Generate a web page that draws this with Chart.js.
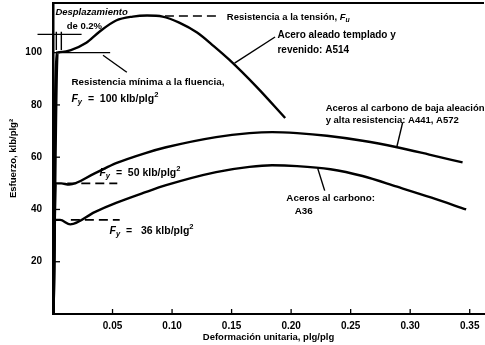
<!DOCTYPE html>
<html>
<head>
<meta charset="utf-8">
<script src="https://cdn.jsdelivr.net/npm/chart.js@4.4.1/dist/chart.umd.min.js"></script>
<style>
  html, body { margin: 0; padding: 0; background: #fff; }
</style>
</head>
<body>
<canvas id="grafico" width="485" height="345"></canvas>
<script>
// Datos (deformación unitaria, esfuerzo en klb/plg2)
const deformA514 = [0, 0.0034, 0.008, 0.015, 0.028, 0.039, 0.053, 0.067, 0.079, 0.092, 0.106, 0.121, 0.135, 0.148, 0.171, 0.195];
const esfuerzoA514 = [0, 100, 100.3, 101, 103.8, 108, 112.3, 113.8, 114.2, 113.8, 111.5, 107.7, 102.5, 97.3, 86.9, 75];

const deformA441 = [0, 0.0017, 0.007, 0.0135, 0.035, 0.053, 0.077, 0.095, 0.137, 0.165, 0.184, 0.205, 0.23, 0.26, 0.289, 0.316, 0.344];
const esfuerzoA441 = [0, 50, 50, 49.5, 53.8, 57.7, 61.5, 63.8, 67.7, 69.2, 69.6, 69.2, 68.2, 66.3, 63.8, 61, 58];

const deformA36 = [0, 0.0012, 0.006, 0.0145, 0.035, 0.053, 0.077, 0.095, 0.137, 0.165, 0.184, 0.205, 0.233, 0.26, 0.289, 0.318, 0.347];
const esfuerzoA36 = [0, 36, 36, 34.3, 39, 42.5, 46.5, 49.3, 54.3, 56.3, 56.9, 56.6, 55.4, 52.8, 48.7, 44.5, 40];

const ticksX = [0.05, 0.10, 0.15, 0.20, 0.25, 0.30, 0.35];
const ticksY = [20, 40, 60, 80, 100];

// Líneas de referencia y guías (en unidades de los ejes)
const lineaFu = [[0.094, 114], [0.139, 114]];
const lineaFy100 = [[0.003, 100], [0.048, 100]];
const guiaFy100 = [[0.042, 99], [0.062, 92.5]];
const lineaFy50 = [[0.012, 50], [0.054, 50]];
const lineaFy36 = [[0.015, 36], [0.056, 36]];
const desplaz1 = [[0.0028, 101], [0.0028, 108]];
const desplaz2 = [[0.0070, 101], [0.0070, 108]];
const cota = [[-0.013, 107], [0.024, 107]];
const guiaA514 = [[0.1865, 106], [0.1525, 96]];
const guiaA441 = [[0.2937, 73.3], [0.2887, 63.8]];
const guiaA36 = [[0.2223, 55.8], [0.2282, 47.2]];

const etiquetas = [
  { x: 0.002, y: 115.6, tam: 9.5, partes: [{ t: 'Desplazamiento', it: true }] },
  { x: 0.0115, y: 110.2, tam: 9.5, partes: [{ t: 'de 0.2%' }] },
  { x: 0.146, y: 113.6, tam: 9.5, partes: [{ t: 'Resistencia a la tensión, ' }, { t: 'F', it: true }, { t: 'u', sub: true, it: true }] },
  { x: 0.1885, y: 106.6, tam: 10, partes: [{ t: 'Acero aleado templado y' }] },
  { x: 0.1885, y: 101, tam: 10, partes: [{ t: 'revenido: A514' }] },
  { x: 0.0155, y: 88.6, tam: 9.8, partes: [{ t: 'Resistencia mínima a la fluencia,' }] },
  { x: 0.0155, y: 82.4, tam: 10.5, partes: [{ t: 'F', it: true }, { t: 'y', sub: true, it: true }, { t: '  =  100 klb/plg' }, { t: '2', sup: true }] },
  { x: 0.229, y: 78.6, tam: 9.5, partes: [{ t: 'Aceros al carbono de baja aleación' }] },
  { x: 0.229, y: 74.2, tam: 9.5, partes: [{ t: 'y alta resistencia: A441, A572' }] },
  { x: 0.039, y: 53.8, tam: 10.5, partes: [{ t: 'F', it: true }, { t: 'y', sub: true, it: true }, { t: '  =  50 klb/plg' }, { t: '2', sup: true }] },
  { x: 0.0475, y: 31.6, tam: 10.5, partes: [{ t: 'F', it: true }, { t: 'y', sub: true, it: true }, { t: '  =   36 klb/plg' }, { t: '2', sup: true }] },
  { x: 0.196, y: 44.4, tam: 9.8, partes: [{ t: 'Aceros al carbono:' }] },
  { x: 0.203, y: 39.4, tam: 9.8, partes: [{ t: 'A36' }] }
];

const FUENTE = '"Liberation Sans", Arial, sans-serif';

function puntos(xs, ys) {
  return xs.map((x, i) => ({ x: x, y: ys[i] }));
}
function segmento(par) {
  return par.map(p => ({ x: p[0], y: p[1] }));
}

function curva(xs, ys) {
  return {
    data: puntos(xs, ys),
    borderColor: '#000',
    borderWidth: 2.4,
    pointRadius: 0,
    cubicInterpolationMode: 'monotone',
    fill: false,
    // tramo elástico más grueso, como en la figura
    segment: { borderWidth: c => (c.p0DataIndex === 0 ? 3.6 : 2.4) }
  };
}
function linea(par, opciones) {
  return Object.assign({
    data: segmento(par),
    borderColor: '#000',
    borderWidth: 1.4,
    pointRadius: 0,
    fill: false
  }, opciones || {});
}

const guionada = { borderDash: [9, 5], borderWidth: 1.6 };

// Dibuja texto con cursivas, subíndices y superíndices
function textoRico(ctx, partes, x, y, tam) {
  let cx = x;
  partes.forEach(p => {
    const t = (p.sub || p.sup) ? tam * 0.72 : tam;
    ctx.font = (p.it ? 'italic ' : '') + 'bold ' + t + 'px ' + FUENTE;
    let dy = 0;
    if (p.sub) dy = 3;
    if (p.sup) dy = -4;
    ctx.fillText(p.t, cx, y + dy);
    cx += ctx.measureText(p.t).width;
  });
}

const decoracion = {
  id: 'decoracion',
  afterDraw(chart) {
    const ctx = chart.ctx;
    const sx = chart.scales.x;
    const sy = chart.scales.y;
    const area = chart.chartArea;
    ctx.save();
    ctx.strokeStyle = '#000';
    // marco superior
    ctx.lineWidth = 1.8;
    ctx.beginPath();
    ctx.moveTo(area.left, area.top);
    ctx.lineTo(area.right, area.top);
    ctx.stroke();
    // marcas hacia dentro
    ctx.lineWidth = 1.3;
    ticksY.forEach(v => {
      const py = sy.getPixelForValue(v);
      ctx.beginPath();
      ctx.moveTo(area.left, py);
      ctx.lineTo(area.left + 7, py);
      ctx.stroke();
    });
    ticksX.forEach(v => {
      const px = sx.getPixelForValue(v);
      ctx.beginPath();
      ctx.moveTo(px, area.bottom);
      ctx.lineTo(px, area.bottom - 5);
      ctx.stroke();
    });
    // etiquetas
    ctx.fillStyle = '#000';
    ctx.textBaseline = 'middle';
    ctx.textAlign = 'left';
    etiquetas.forEach(e => {
      textoRico(ctx, e.partes, sx.getPixelForValue(e.x), sy.getPixelForValue(e.y), e.tam);
    });
    ctx.restore();
  }
};

const ctx = document.getElementById('grafico').getContext('2d');
new Chart(ctx, {
  type: 'line',
  data: {
    datasets: [
      curva(deformA514, esfuerzoA514),
      curva(deformA441, esfuerzoA441),
      curva(deformA36, esfuerzoA36),
      linea(lineaFu, guionada),
      linea(lineaFy100),
      linea(guiaFy100),
      linea(lineaFy50, guionada),
      linea(lineaFy36, guionada),
      linea(desplaz1),
      linea(desplaz2),
      linea(cota, { clip: false }),
      linea(guiaA514),
      linea(guiaA441),
      linea(guiaA36)
    ]
  },
  options: {
    responsive: false,
    animation: false,
    layout: { padding: { top: 3, right: 1, left: 0, bottom: 0 } },
    plugins: {
      legend: { display: false },
      tooltip: { enabled: false }
    },
    scales: {
      x: {
        type: 'linear',
        min: 0,
        max: 0.362,
        afterFit: s => { s.height = 31; s.paddingLeft = 0; s.paddingRight = 0; },
        afterBuildTicks: s => { s.ticks = ticksX.map(v => ({ value: v })); },
        grid: { display: false, drawTicks: false },
        border: { color: '#000', width: 2 },
        ticks: {
          padding: 6,
          color: '#000',
          font: { family: FUENTE, weight: 'bold', size: 10 },
          callback: v => v.toFixed(2)
        },
        title: {
          display: true,
          text: 'Deformación unitaria, plg/plg',
          color: '#000',
          font: { family: FUENTE, weight: 'bold', size: 9.5 },
          padding: { top: 0, bottom: 2 }
        }
      },
      y: {
        min: 0,
        max: 119,
        afterFit: s => { s.width = 53; s.paddingTop = 0; s.paddingBottom = 0; },
        afterBuildTicks: s => { s.ticks = ticksY.map(v => ({ value: v })); },
        grid: { display: false, drawTicks: false },
        border: { color: '#000', width: 2.5 },
        ticks: {
          padding: 11,
          color: '#000',
          font: { family: FUENTE, weight: 'bold', size: 10 }
        },
        title: {
          display: true,
          text: 'Esfuerzo, klb/plg²',
          color: '#000',
          font: { family: FUENTE, weight: 'bold', size: 9.5 },
          padding: { top: 8, bottom: 4 }
        }
      }
    }
  },
  plugins: [decoracion]
});
</script>
</body>
</html>
